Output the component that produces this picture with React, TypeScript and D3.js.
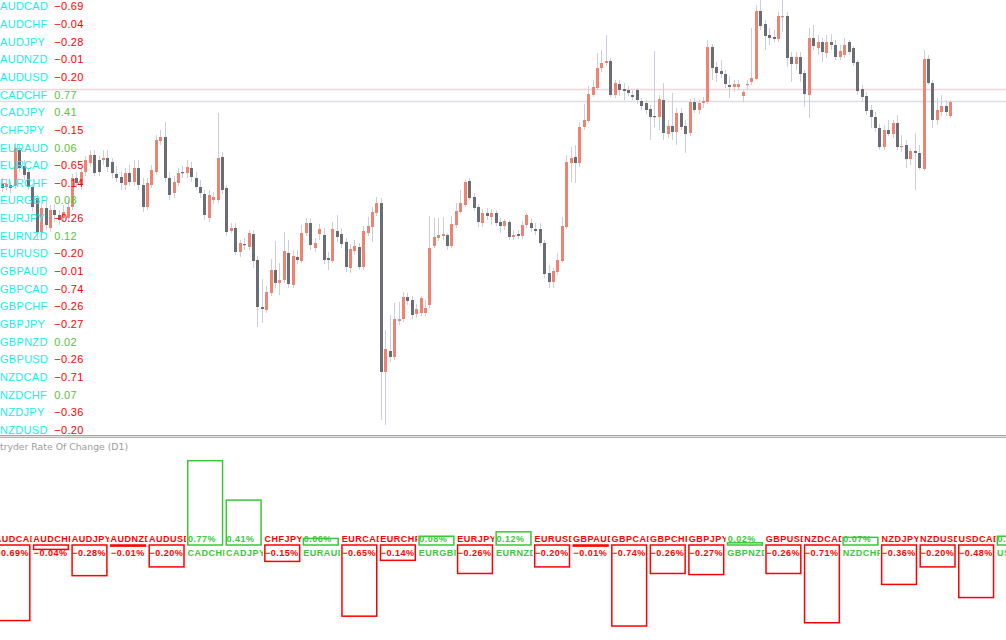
import React, { useEffect, useRef } from "react";
import * as d3 from "d3";

// Daily candles, prices in points (x 1e-4)
const opens = [
  6817, 6813, 6815, 6814, 6850, 6834, 6828, 6813, 6802, 6768,
  6792, 6772, 6790, 6785, 6782, 6782, 6793, 6822, 6815, 6828,
  6837, 6845, 6840, 6840, 6842, 6838, 6826, 6823, 6815, 6827,
  6818, 6832, 6815, 6793, 6815, 6828, 6859, 6863, 6822, 6807,
  6817, 6828, 6827, 6832, 6822, 6813, 6806, 6782, 6800, 6800,
  6843, 6812, 6769, 6772, 6748, 6756, 6753, 6766, 6740, 6693,
  6690, 6707, 6730, 6717, 6720, 6747, 6715, 6743, 6739, 6767,
  6777, 6752, 6766, 6765, 6742, 6739, 6769, 6766, 6758, 6732,
  6749, 6753, 6733, 6767, 6773, 6787, 6797, 6628, 6649, 6643,
  6679, 6681, 6703, 6700, 6686, 6687, 6687, 6695, 6754, 6762,
  6764, 6765, 6754, 6775, 6788, 6795, 6819, 6803, 6793, 6777,
  6787, 6783, 6787, 6778, 6774, 6778, 6763, 6766, 6764, 6775,
  6777, 6771, 6771, 6757, 6727, 6718, 6728, 6739, 6773, 6837,
  6843, 6837, 6873, 6879, 6905, 6912, 6932, 6937, 6939, 6905,
  6916, 6911, 6910, 6905, 6910, 6899, 6897, 6891, 6884, 6883,
  6900, 6866, 6874, 6868, 6887, 6874, 6867, 6898, 6890, 6897,
  6898, 6953, 6933, 6929, 6926, 6915, 6913, 6913, 6904, 6915,
  6918, 6921, 6989, 6976, 6965, 6963, 6961, 6983, 6984, 6943,
  6936, 6943, 6927, 6905, 6962, 6952, 6958, 6947, 6958, 6955,
  6943, 6945, 6958, 6952, 6938, 6911, 6904, 6890, 6883, 6872,
  6853, 6870, 6866, 6877, 6853, 6855, 6841, 6849, 6847, 6831,
  6941, 6917, 6880, 6888, 6894, 6884,
];
const highs = [
  6822, 6820, 6819, 6857, 6855, 6840, 6832, 6816, 6805, 6796,
  6800, 6795, 6796, 6790, 6795, 6800, 6826, 6828, 6832, 6844,
  6850, 6850, 6844, 6850, 6850, 6842, 6834, 6828, 6832, 6835,
  6840, 6840, 6822, 6822, 6835, 6865, 6870, 6878, 6828, 6824,
  6832, 6834, 6840, 6838, 6828, 6820, 6810, 6810, 6808, 6887,
  6848, 6815, 6777, 6777, 6760, 6762, 6770, 6770, 6744, 6721,
  6714, 6741, 6759, 6737, 6768, 6760, 6750, 6750, 6775, 6782,
  6782, 6762, 6776, 6772, 6748, 6778, 6785, 6772, 6762, 6756,
  6760, 6757, 6774, 6783, 6793, 6803, 6802, 6670, 6685, 6697,
  6698, 6708, 6707, 6704, 6696, 6704, 6700, 6784, 6782, 6782,
  6783, 6767, 6784, 6797, 6810, 6820, 6822, 6807, 6796, 6791,
  6792, 6791, 6790, 6782, 6781, 6780, 6770, 6770, 6779, 6787,
  6781, 6777, 6777, 6760, 6735, 6732, 6747, 6783, 6845, 6853,
  6855, 6878, 6896, 6914, 6920, 6947, 6950, 6965, 6942, 6920,
  6920, 6917, 6914, 6910, 6912, 6902, 6900, 6895, 6949, 6905,
  6917, 6880, 6907, 6892, 6892, 6880, 6901, 6902, 6900, 6903,
  6960, 6956, 6938, 6940, 6930, 6924, 6920, 6920, 6910, 6920,
  6972, 6995, 7000, 6980, 6972, 6970, 6988, 7000, 6988, 6948,
  6948, 6948, 6930, 6972, 6975, 6965, 6962, 6965, 6966, 6960,
  6955, 6962, 6960, 6954, 6940, 6915, 6908, 6895, 6888, 6876,
  6875, 6880, 6880, 6885, 6865, 6860, 6852, 6867, 6855, 6950,
  6945, 6920, 6902, 6905, 6900, 6900,
];
const lows = [
  6808, 6810, 6807, 6811, 6828, 6820, 6810, 6788, 6760, 6764,
  6770, 6768, 6778, 6775, 6778, 6778, 6790, 6812, 6810, 6824,
  6833, 6824, 6824, 6835, 6828, 6822, 6818, 6810, 6810, 6814,
  6814, 6810, 6788, 6790, 6812, 6825, 6855, 6818, 6800, 6802,
  6814, 6822, 6822, 6818, 6810, 6802, 6780, 6778, 6796, 6797,
  6806, 6764, 6767, 6745, 6743, 6750, 6750, 6732, 6673, 6677,
  6687, 6704, 6712, 6705, 6717, 6712, 6712, 6736, 6737, 6764,
  6750, 6748, 6760, 6736, 6730, 6737, 6758, 6752, 6728, 6727,
  6745, 6730, 6730, 6764, 6758, 6784, 6580, 6575, 6638, 6640,
  6675, 6678, 6695, 6681, 6682, 6684, 6684, 6692, 6752, 6759,
  6760, 6750, 6752, 6772, 6786, 6793, 6800, 6789, 6773, 6773,
  6780, 6775, 6774, 6767, 6770, 6760, 6760, 6761, 6761, 6772,
  6768, 6765, 6754, 6722, 6712, 6712, 6725, 6737, 6771, 6818,
  6817, 6833, 6870, 6877, 6903, 6910, 6928, 6934, 6903, 6902,
  6904, 6900, 6904, 6900, 6896, 6890, 6886, 6860, 6873, 6870,
  6860, 6862, 6860, 6855, 6870, 6847, 6864, 6887, 6886, 6892,
  6896, 6920, 6918, 6922, 6912, 6902, 6908, 6910, 6898, 6910,
  6915, 6920, 6970, 6950, 6955, 6958, 6958, 6968, 6933, 6918,
  6930, 6918, 6893, 6882, 6950, 6945, 6938, 6942, 6950, 6940,
  6940, 6942, 6945, 6934, 6905, 6898, 6885, 6872, 6868, 6850,
  6850, 6864, 6862, 6850, 6848, 6832, 6835, 6810, 6830, 6829,
  6915, 6872, 6875, 6884, 6884, 6882,
];
const closes = [
  6812, 6816, 6812, 6852, 6832, 6825, 6813, 6793, 6768, 6792,
  6775, 6790, 6785, 6780, 6788, 6793, 6822, 6817, 6828, 6840,
  6845, 6827, 6828, 6842, 6833, 6827, 6822, 6817, 6827, 6818,
  6832, 6815, 6793, 6817, 6830, 6860, 6863, 6822, 6805, 6818,
  6827, 6827, 6833, 6823, 6813, 6807, 6785, 6805, 6803, 6842,
  6810, 6768, 6772, 6748, 6757, 6755, 6767, 6739, 6693, 6691,
  6708, 6730, 6717, 6720, 6749, 6716, 6744, 6740, 6767, 6777,
  6755, 6757, 6771, 6740, 6740, 6771, 6763, 6756, 6733, 6751,
  6754, 6733, 6769, 6774, 6788, 6797, 6628, 6651, 6643, 6681,
  6681, 6703, 6699, 6685, 6691, 6702, 6692, 6752, 6763, 6765,
  6766, 6754, 6776, 6789, 6797, 6818, 6802, 6792, 6778, 6787,
  6784, 6787, 6777, 6774, 6779, 6763, 6765, 6764, 6775, 6785,
  6772, 6769, 6757, 6726, 6718, 6729, 6740, 6774, 6838, 6842,
  6837, 6873, 6880, 6906, 6913, 6932, 6937, 6939, 6905, 6917,
  6910, 6909, 6907, 6903, 6900, 6894, 6890, 6883, 6883, 6901,
  6867, 6874, 6868, 6887, 6873, 6866, 6898, 6890, 6897, 6899,
  6953, 6932, 6927, 6926, 6916, 6913, 6916, 6916, 6908, 6916,
  6922, 6989, 6974, 6964, 6962, 6961, 6984, 6984, 6942, 6936,
  6943, 6926, 6906, 6962, 6954, 6958, 6948, 6958, 6955, 6943,
  6949, 6955, 6948, 6937, 6909, 6903, 6889, 6883, 6872, 6853,
  6870, 6866, 6877, 6853, 6854, 6841, 6849, 6847, 6832, 6941,
  6917, 6880, 6890, 6894, 6888, 6898,
];

// Horizontal price levels
const levelPrices = [6911, 6899];

// Rate of change per pair (%)
const pairs = [
  "AUDCAD", "AUDCHF", "AUDJPY", "AUDNZD", "AUDUSD", "CADCHF", "CADJPY",
  "CHFJPY", "EURAUD", "EURCAD", "EURCHF", "EURGBP", "EURJPY", "EURNZD",
  "EURUSD", "GBPAUD", "GBPCAD", "GBPCHF", "GBPJPY", "GBPNZD", "GBPUSD",
  "NZDCAD", "NZDCHF", "NZDJPY", "NZDUSD", "USDCAD", "USDCHF",
];
const rocValues = [
  -0.69, -0.04, -0.28, -0.01, -0.2, 0.77, 0.41,
  -0.15, 0.06, -0.65, -0.14, 0.08, -0.26, 0.12,
  -0.2, -0.01, -0.74, -0.26, -0.27, 0.02, -0.26,
  -0.71, 0.07, -0.36, -0.2, -0.48, 0.08,
];
const listCount = 25;

const W = 1006;
const H = 640;

export default function App() {
  const ref = useRef<SVGSVGElement>(null);

  useEffect(() => {
    const svg = d3.select(ref.current);
    svg.selectAll("*").remove();
    const n = Math.min(opens.length, highs.length, lows.length, closes.length);
    const idx = d3.range(n);

    const UP = "#ef8372";
    const DOWN = "#6a6e74";
    const WICK = "#cbcedb";
    const RED = "#ff0000";
    const GREEN = "#38c838";

    svg.append("rect").attr("width", W).attr("height", H).attr("fill", "#ffffff");

    const defs = svg.append("defs");
    defs.append("clipPath").attr("id", "mainclip")
      .append("rect").attr("x", 0).attr("y", 0).attr("width", W).attr("height", 435);

    const x = d3.scaleLinear().domain([0, n - 1]).range([1.5, 950]);
    const y = d3.scaleLinear().domain([6564, 7000]).range([436, 0]);

    const main = svg.append("g").attr("clip-path", "url(#mainclip)");
    const levelColors = ["#f4d3d9", "#dddde7"];
    main.selectAll("line.level").data(levelPrices).join("line")
      .attr("class", "level")
      .attr("x1", 0).attr("x2", W)
      .attr("y1", (d) => Math.round(y(d)) + 0.5)
      .attr("y2", (d) => Math.round(y(d)) + 0.5)
      .attr("stroke", (_d, i) => levelColors[i])
      .attr("stroke-width", 1.5);

    const cx = (i: number) => Math.round(x(i));
    main.selectAll("line.wick").data(idx).join("line")
      .attr("class", "wick")
      .attr("x1", (i) => cx(i) + 0.5).attr("x2", (i) => cx(i) + 0.5)
      .attr("y1", (i) => y(highs[i])).attr("y2", (i) => y(lows[i]))
      .attr("stroke", WICK).attr("stroke-width", 1);
    main.selectAll("rect.body").data(idx).join("rect")
      .attr("class", "body")
      .attr("x", (i) => cx(i) - 1)
      .attr("width", 3)
      .attr("y", (i) => y(Math.max(opens[i], closes[i])))
      .attr("height", (i) => Math.max(1.2, Math.abs(y(opens[i]) - y(closes[i]))))
      .attr("fill", (i) => (closes[i] >= opens[i] ? UP : DOWN));

    // Left list
    const listY = d3.scaleLinear().domain([0, listCount - 1]).range([10.3, 434]);
    const fmt = d3.format(".2f");
    const list = svg.append("g")
      .attr("font-family", "'Liberation Sans', Arial, sans-serif")
      .attr("font-size", 11)
      .attr("letter-spacing", 0.3);
    const listIdx = d3.range(listCount);
    list.selectAll("text.pn").data(listIdx).join("text")
      .attr("class", "pn")
      .attr("x", 0).attr("y", (i) => listY(i))
      .attr("fill", "#16eeee")
      .text((i) => pairs[i]);
    list.selectAll("text.pv").data(listIdx).join("text")
      .attr("class", "pv")
      .attr("x", 54.3).attr("y", (i) => listY(i))
      .attr("fill", (i) => (rocValues[i] >= 0 ? "#5cc23a" : RED))
      .text((i) => fmt(rocValues[i]));

    // Separator
    const sepY = [435.5, 436.5, 437.5];
    const sepC = ["#a4a4a4", "#e2e2e2", "#b4b4b4"];
    svg.selectAll("line.sep").data(sepY).join("line")
      .attr("class", "sep")
      .attr("x1", 0).attr("x2", W)
      .attr("y1", (d) => d).attr("y2", (d) => d)
      .attr("stroke", (_d, i) => sepC[i]);

    svg.append("text")
      .attr("x", 0).attr("y", 450)
      .attr("font-family", "'DejaVu Sans', Verdana, sans-serif")
      .attr("font-size", 9.3)
      .attr("fill", "#9c9c9c")
      .text("tryder Rate Of Change (D1)");

    // Indicator
    const bx = d3.scaleLinear().domain([0, 1]).range([-5.75, 32.8]);
    const ry = d3.scaleLinear().domain([0, 1]).range([545, 435.5]);
    const ind = svg.append("g");
    const rIdx = d3.range(Math.min(pairs.length, rocValues.length));
    rIdx.forEach((i) => {
      defs.append("clipPath").attr("id", `lc${i}`)
        .append("rect").attr("x", bx(i)).attr("y", 520).attr("width", 37.5).attr("height", 45);
    });
    ind.selectAll("rect.box").data(rIdx).join("rect")
      .attr("class", "box")
      .attr("x", (i) => bx(i) + 0.75)
      .attr("width", 34.8)
      .attr("y", (i) => Math.min(ry(rocValues[i]), ry(0)))
      .attr("height", (i) => Math.max(0.5, Math.abs(ry(rocValues[i]) - ry(0))))
      .attr("fill", "none")
      .attr("stroke", (i) => (rocValues[i] >= 0 ? GREEN : RED))
      .attr("stroke-width", 1.5);

    const labels = ind.selectAll("g.lab").data(rIdx).join("g")
      .attr("class", "lab")
      .attr("clip-path", (i) => `url(#lc${i})`)
      .attr("font-family", "'Liberation Sans', Arial, sans-serif")
      .attr("font-size", 9)
      .attr("font-weight", "bold")
      .attr("letter-spacing", 0.5);
    labels.append("text")
      .attr("x", (i) => bx(i) + 0.5)
      .attr("y", (i) => (rocValues[i] >= 0 ? 555.5 : 542.3))
      .attr("fill", (i) => (rocValues[i] >= 0 ? GREEN : RED))
      .text((i) => pairs[i]);
    labels.append("text")
      .attr("x", (i) => bx(i) + 1)
      .attr("y", (i) => (rocValues[i] >= 0 ? 542.3 : 555.5))
      .attr("fill", (i) => (rocValues[i] >= 0 ? GREEN : RED))
      .text((i) => fmt(rocValues[i]) + "%");
  }, []);

  return (
    <svg
      ref={ref}
      width={W}
      height={H}
      style={{ position: "fixed", left: 0, top: 0, display: "block" }}
    />
  );
}
